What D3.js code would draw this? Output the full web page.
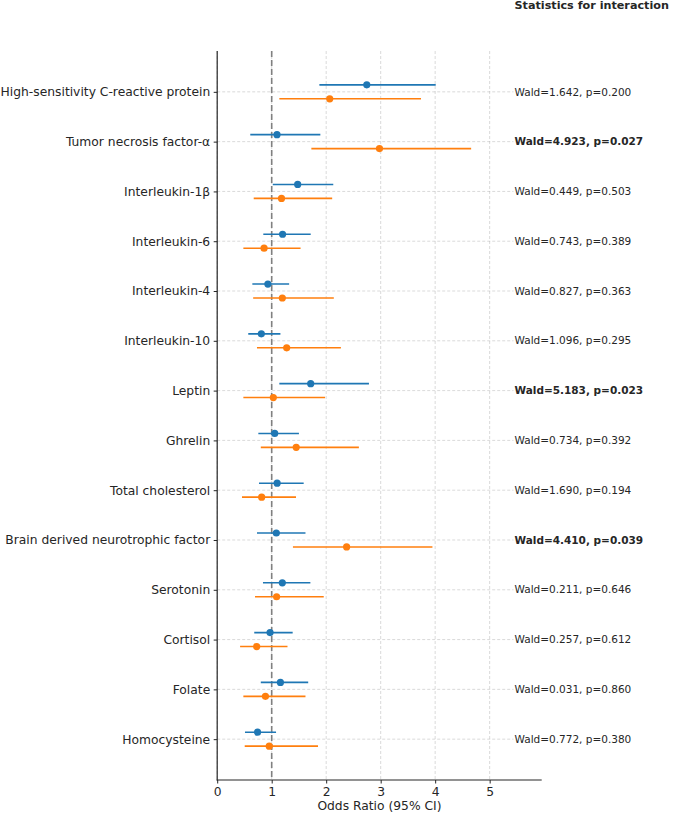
<!DOCTYPE html>
<html><head><meta charset="utf-8">
<script src="https://cdn.jsdelivr.net/npm/d3@7"></script>
<style>body{margin:0;background:#fff}svg{display:block}text{font-family:"DejaVu Sans",sans-serif}</style>
</head><body>
<svg id="c" width="673" height="813"></svg>
<script>
const categories = ["High-sensitivity C-reactive protein","Tumor necrosis factor-α","Interleukin-1β","Interleukin-6","Interleukin-4","Interleukin-10","Leptin","Ghrelin","Total cholesterol","Brain derived neurotrophic factor","Serotonin","Cortisol","Folate","Homocysteine"];
const blueOR = [2.745,1.097,1.477,1.20,0.93,0.81,1.716,1.055,1.10,1.085,1.195,0.97,1.16,0.74];
const blueLo = [1.875,0.607,1.02,0.846,0.645,0.57,1.14,0.755,0.767,0.73,0.84,0.68,0.80,0.51];
const blueHi = [4.01,1.893,2.13,1.716,1.32,1.16,2.785,1.50,1.587,1.62,1.71,1.385,1.67,1.08];
const orangeOR = [2.065,2.978,1.18,0.86,1.195,1.275,1.03,1.45,0.816,2.375,1.09,0.725,0.885,0.955];
const orangeLo = [1.14,1.728,0.67,0.48,0.66,0.73,0.48,0.80,0.455,1.39,0.694,0.42,0.48,0.505];
const orangeHi = [3.74,4.66,2.11,1.53,2.14,2.27,1.98,2.60,1.446,3.95,1.955,1.29,1.62,1.85];
const waldText = ["Wald=1.642, p=0.200","Wald=4.923, p=0.027","Wald=0.449, p=0.503","Wald=0.743, p=0.389","Wald=0.827, p=0.363","Wald=1.096, p=0.295","Wald=5.183, p=0.023","Wald=0.734, p=0.392","Wald=1.690, p=0.194","Wald=4.410, p=0.039","Wald=0.211, p=0.646","Wald=0.257, p=0.612","Wald=0.031, p=0.860","Wald=0.772, p=0.380"];
const waldBold = [false,true,false,false,false,false,true,false,false,true,false,false,false,false];
const xTicks = [0,1,2,3,4,5];

const svg = d3.select("#c");
const L = 217.2, R = 541.7, T = 51, B = 780;
const x = d3.scaleLinear().domain([0,5.955]).range([L,R]);
const y = d3.scaleLinear().domain([-0.82,13.82]).range([T,B]);
const off = 0.14;
const blue = "#1f77b4", orange = "#ff7f0e";
const fs = 12.3;

// grid
const g = svg.append("g");
g.selectAll("line.vg").data(xTicks).join("line")
  .attr("x1",d=>x(d)).attr("x2",d=>x(d)).attr("y1",T).attr("y2",B)
  .attr("stroke","#b0b0b0").attr("stroke-opacity",0.6).attr("stroke-width",0.8).attr("stroke-dasharray","3,2");
g.selectAll("line.hg").data(categories).join("line")
  .attr("x1",L).attr("x2",R).attr("y1",(d,i)=>y(i)).attr("y2",(d,i)=>y(i))
  .attr("stroke","#b0b0b0").attr("stroke-opacity",0.6).attr("stroke-width",0.8).attr("stroke-dasharray","3,2");

// reference line at 1
svg.append("line").attr("x1",x(1)).attr("x2",x(1)).attr("y1",T).attr("y2",B)
  .attr("stroke","#808080").attr("stroke-width",1.6).attr("stroke-dasharray","6,3");

function series(OR,lo,hi,col,dy){
  const s = svg.append("g");
  s.selectAll("line").data(OR).join("line")
    .attr("x1",(d,i)=>x(lo[i])).attr("x2",(d,i)=>x(hi[i]))
    .attr("y1",(d,i)=>y(i+dy)).attr("y2",(d,i)=>y(i+dy))
    .attr("stroke",col).attr("stroke-width",1.6);
  s.selectAll("circle").data(OR).join("circle")
    .attr("cx",d=>x(d)).attr("cy",(d,i)=>y(i+dy)).attr("r",3.6).attr("fill",col);
}
series(blueOR,blueLo,blueHi,blue,-off);
series(orangeOR,orangeLo,orangeHi,orange,off);

// axes
const xa = svg.append("g").attr("transform",`translate(0,${B})`)
  .call(d3.axisBottom(x).tickValues(xTicks).tickFormat(d3.format("d")).tickSize(3.5).tickPadding(3.5));
xa.select(".domain").remove();
xa.selectAll("text").attr("font-size",fs).attr("fill","#262626").attr("font-family","DejaVu Sans");
xa.selectAll("line").attr("stroke","#262626");
const ya = svg.append("g").attr("transform",`translate(${L},0)`)
  .call(d3.axisLeft(d3.scaleLinear().domain(y.domain()).range(y.range()))
    .tickValues(d3.range(categories.length)).tickFormat(i=>categories[i]).tickSize(3.5).tickPadding(3.5));
ya.select(".domain").remove();
ya.selectAll("text").attr("font-size",fs).attr("fill","#262626").attr("font-family","DejaVu Sans");
ya.selectAll("line").attr("stroke","#262626");
svg.append("line").attr("x1",L).attr("x2",L).attr("y1",T).attr("y2",B+0.5).attr("stroke","#262626").attr("stroke-width",1.2);
svg.append("line").attr("x1",L-0.5).attr("x2",R).attr("y1",B).attr("y2",B).attr("stroke","#262626").attr("stroke-width",1.2);

svg.append("text").attr("x",(L+R)/2).attr("y",809.5).attr("text-anchor","middle")
  .attr("font-size",fs).attr("fill","#262626").text("Odds Ratio (95% CI)");

// stats
const st = svg.append("g");
waldText.forEach((t,i)=>{
  const tx = st.append("text").attr("x",514.5).attr("y",y(i)).attr("dy","0.35em")
    .attr("font-size",10.5).attr("fill","#262626").attr("font-weight",waldBold[i]?"bold":"normal").text(t);
  const bb = tx.node().getBBox();
  st.insert("rect","text").attr("x",bb.x-1).attr("y",bb.y).attr("width",Math.min(bb.width+2, R-bb.x+1)).attr("height",bb.height).attr("fill","#fff");
});
svg.append("text").attr("x",514.5).attr("y",5).attr("dy","0.35em").attr("font-size",11.2).attr("font-weight","bold")
  .attr("fill","#262626").text("Statistics for interaction");
</script>
</body></html>
